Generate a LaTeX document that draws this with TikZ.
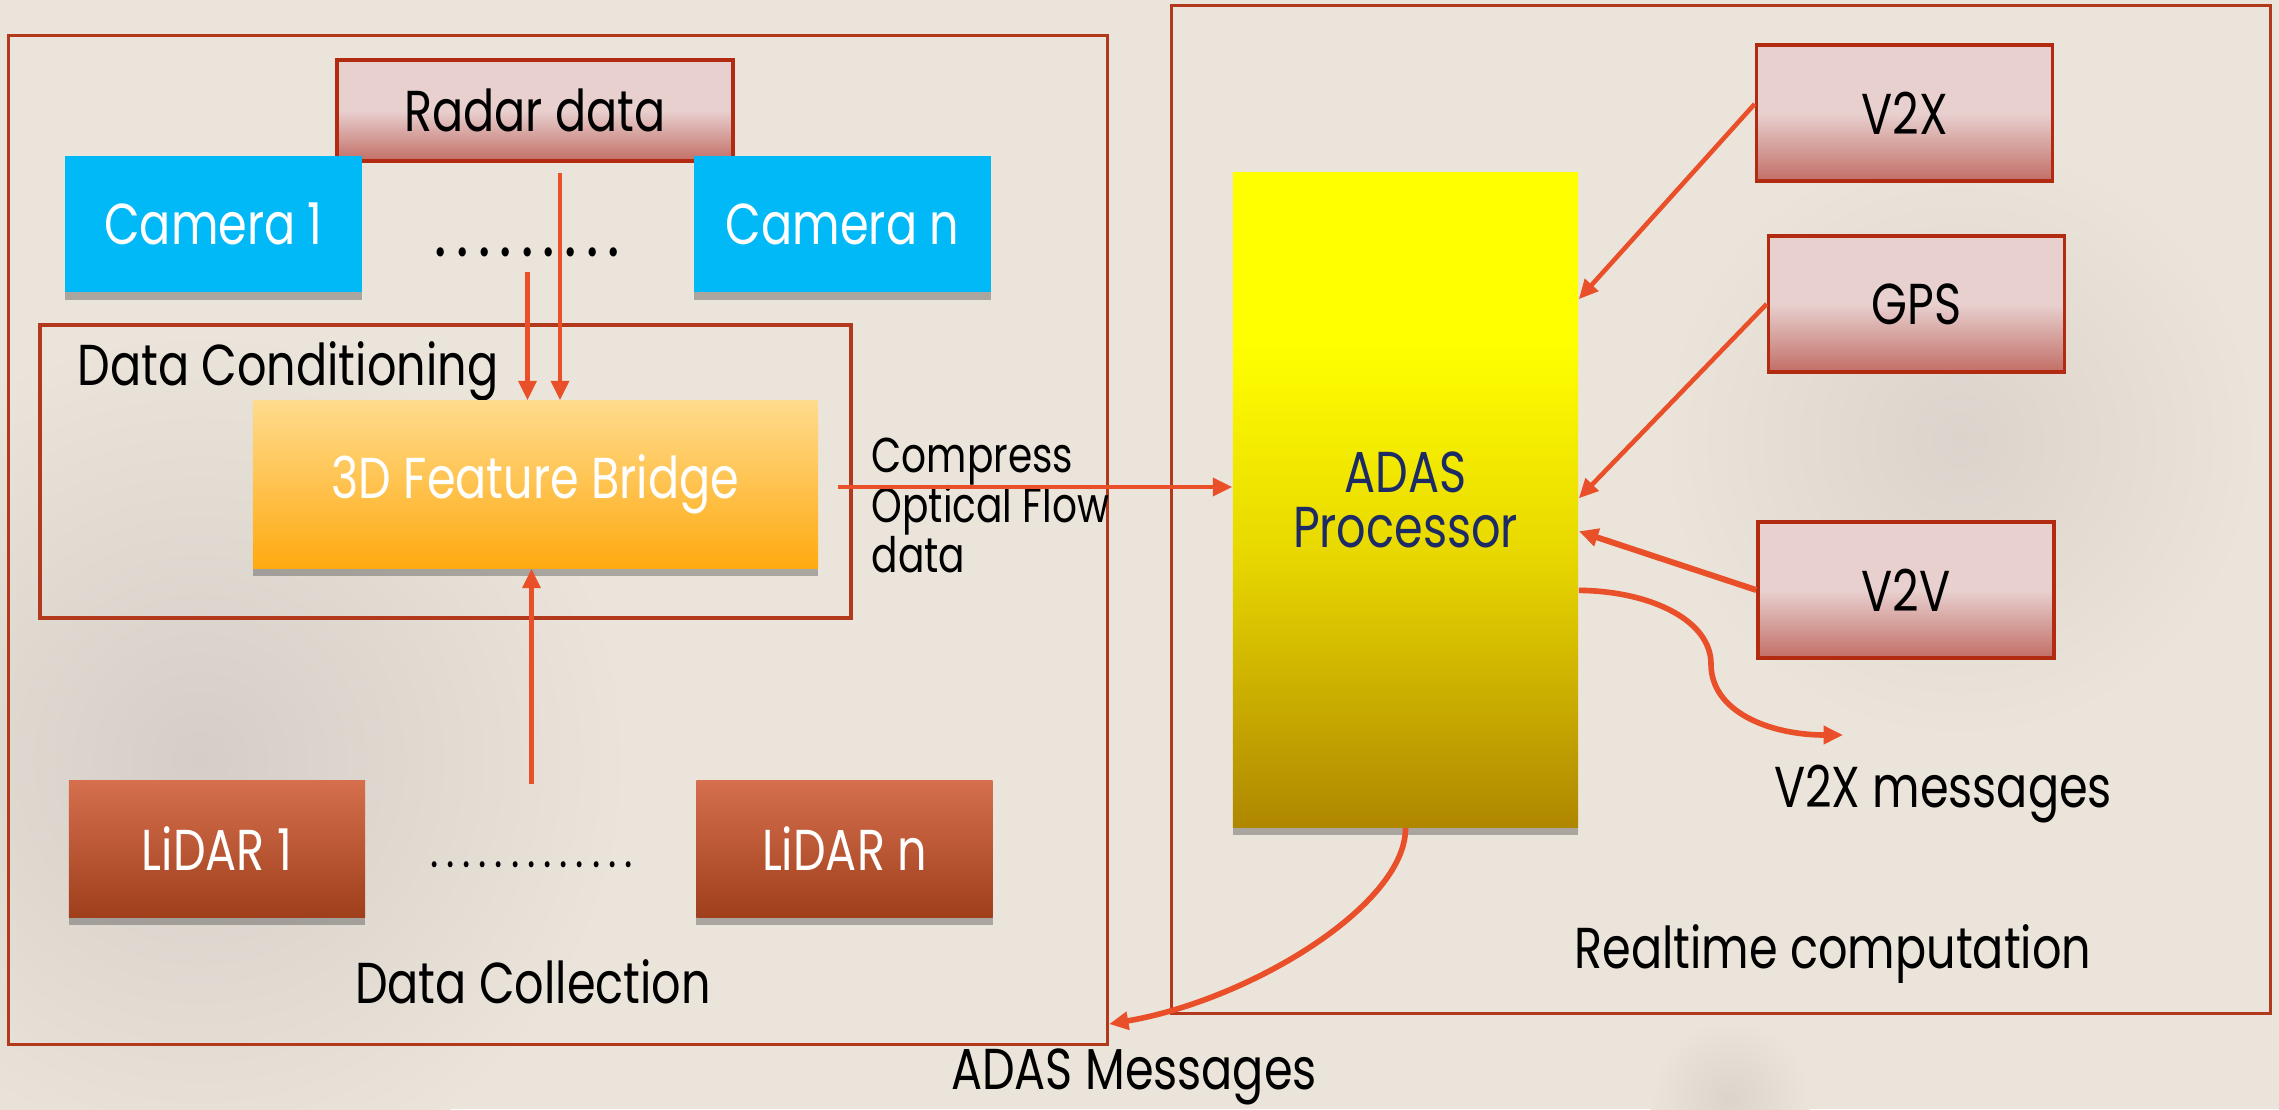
\documentclass[tikz,border=0pt]{standalone}
\usepackage{fontspec}
\setmainfont{Poppins}[FakeStretch=0.8]
\usetikzlibrary{arrows.meta,shadows}
\definecolor{bg}{HTML}{EBE4DA}
\definecolor{frame}{HTML}{B3391D}
\definecolor{arrc}{HTML}{E9502A}
\definecolor{cam}{HTML}{00B9F6}
\definecolor{pinkT}{HTML}{E8D0CF}
\definecolor{pinkB}{HTML}{C26E66}
\definecolor{pinkline}{HTML}{B22B10}
\definecolor{lidT}{HTML}{D56F4D}
\definecolor{lidB}{HTML}{9F3F1C}
\definecolor{fbT}{HTML}{FFDB8D}
\definecolor{fbB}{HTML}{FFAA10}
\definecolor{adY}{HTML}{FFFF00}
\definecolor{adM}{HTML}{E8D800}
\definecolor{adB}{HTML}{AF8700}
\definecolor{navy}{HTML}{1C2A66}
\definecolor{shadeA}{HTML}{D5CEC7}
\definecolor{shadeB}{HTML}{DCD4CC}
\pgfdeclareverticalshading{pinksh}{100bp}{color(0bp)=(pinkB); color(25bp)=(pinkB); color(50bp)=(pinkT); color(100bp)=(pinkT)}
\pgfdeclareverticalshading{adassh}{100bp}{color(0bp)=(adB); color(25bp)=(adB); color(46bp)=(adM); color(62bp)=(adY); color(100bp)=(adY)}
\newcommand\dotrow[2]{\foreach \i in {1,...,#1}{\makebox[#2]{.}}}
\tikzset{
  frm/.style={draw=frame, line width=1pt, inner sep=0pt},
  bx/.style={inner sep=0pt, minimum width=2.96cm, minimum height=1.36cm, font=\fontsize{16.4}{18}\selectfont},
  shad/.style={drop shadow={shadow xshift=0cm, shadow yshift=-0.08cm, opacity=0.35, fill=black!80}},
  cambox/.style={bx, fill=cam, text=white, shad},
  pinkbox/.style={bx, shade, shading=pinksh, draw=pinkline, line width=1pt},
  lidbox/.style={bx, top color=lidT, bottom color=lidB, text=white, shad},
  lbl/.style={font=\fontsize{16.4}{18}\selectfont, inner sep=0pt},
  arr/.style={draw=arrc, line width=1.3pt, -{Triangle[length=5.5pt,width=5pt]}},
}
\begin{document}
\begin{tikzpicture}[x=0.01cm, y=-0.01cm]
\fill[bg] (0,0) rectangle (2279,1109);
\useasboundingbox (0,0) rectangle (2279,1109);
% subtle background shading
\shade[inner color=shadeA, outer color=bg] (200,760) circle (430);
\shade[inner color=shadeB, outer color=bg] (1960,440) circle (300);
\shade[inner color=shadeB, outer color=bg] (1730,1100) circle (80);

% frames
\node[frm, minimum width=10.98cm, minimum height=10.08cm] (lf) at (558,540) {};
\node[frm, minimum width=10.98cm, minimum height=10.07cm] (rf) at (1721,509.5) {};
\node[frm, minimum width=8.11cm, minimum height=2.93cm] (dc) at (445.5,471.5) {};

% left side nodes
\node[pinkbox, minimum width=3.96cm, minimum height=1.01cm] (radar) at (535,110.5) {Radar data};
\node[cambox] (cam1) at (213.5,224) {Camera 1};
\node[cambox] (camn) at (842.5,224) {Camera n};
\node[lbl, font=\fontsize{21}{22}\selectfont] (cdots) at (527.5,252) {\dotrow{9}{6.15pt}};
\node[lbl, anchor=base west] (dctext) at (77,385) {Data Conditioning};
\node[inner sep=0pt, minimum width=5.65cm, minimum height=1.67cm, top color=fbT, bottom color=fbB, text=white, font=\fontsize{16.4}{18}\selectfont, shad] (fb) at (535.5,484.5) {3D Feature Bridge};
\node[lidbox] (lid1) at (217,849) {LiDAR 1};
\node[lidbox] (lidn) at (844.5,849) {LiDAR n};
\node[lbl, font=\fontsize{14}{16}\selectfont] (ldots) at (531.5,865) {\dotrow{13}{4.6pt}};
\node[lbl, anchor=base] (dcoll) at (533,1003) {Data Collection};

% right side nodes
\node[inner sep=0pt, minimum width=3.45cm, minimum height=6.54cm, shade, shading=adassh, text=navy, align=center, font=\fontsize{16.4}{15.6}\selectfont, shad] (adas) at (1405.5,500) {ADAS\\Processor};
\node[pinkbox] (v2x) at (1904.5,113) {V2X};
\node[pinkbox] (gps) at (1916.5,304) {GPS};
\node[pinkbox] (v2v) at (1906,590) {V2V};
\node[lbl, anchor=base] (v2xmsg) at (1943,807) {V2X messages};
\node[lbl, anchor=base] (rtc) at (1833,968) {Realtime computation};
\node[lbl, anchor=base] (adasmsg) at (1134,1089) {ADAS Messages};
\node[inner sep=0pt, anchor=base west, align=left, font=\fontsize{13.9}{14.2}\selectfont] (cof) at (871,572) {Compress\\Optical Flow\\data};

% connectors
\draw[arr] ([xshift=0.25cm,yshift=-0.1cm]radar.south) -- ([xshift=0.25cm]radar.south |- fb.north);
\draw[arr] ([yshift=-0.2cm]cdots.center) -- (cdots.center |- fb.north);
\draw[arr] ([yshift=0.81cm]ldots.center) -- (ldots.center |- fb.south);
\draw[arr] ([xshift=0.19cm,yshift=-0.025cm]fb.east) -- ([yshift=-0.025cm]fb.east -| adas.west);
\draw[arr] ([yshift=0.09cm]v2x.west) -- ([yshift=-1.27cm]adas.north east);
\draw[arr] (gps.west) -- ([yshift=-3.26cm]adas.north east);
\draw[arr, line width=1.7pt] (v2v.west) -- ([yshift=-3.59cm]adas.north east);
\coordinate (v2xend) at (1843,735);
\draw[arr, line width=1.6pt] ([yshift=-4.18cm]adas.north east) .. controls (1650,591) and (1711,620) .. (1711,664) .. controls (1711,712) and (1770,735) .. (v2xend);
\draw[arr, line width=1.6pt] (adas.south) .. controls (1406,905) and (1250,1000) .. ([yshift=0.22cm]lf.south east);
\end{tikzpicture}
\end{document}
